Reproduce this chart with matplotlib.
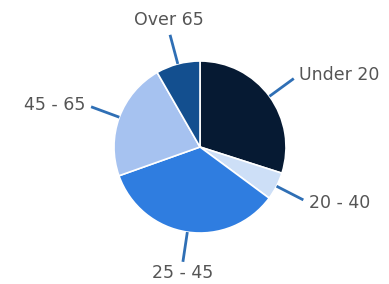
import numpy as np
import matplotlib
matplotlib.use("Agg")
import matplotlib.pyplot as plt

labels = ["Under 20", "20 - 40", "25 - 45", "45 - 65", "Over 65"]
values = [29.9, 5.2, 34.4, 22.1, 8.3]
colors = ["#061a33", "#cddff7", "#2f7de0", "#a6c2f0", "#134f8f"]

W, H = 389, 284
fig = plt.figure(figsize=(W / 100, H / 100), dpi=100)
ax = fig.add_axes([0, 0, 1, 1])
R = 86.0
cx, cy = 200.0, 147.0

wedges, _ = ax.pie(values, colors=colors, startangle=90, counterclock=False,
                   wedgeprops=dict(edgecolor="white", linewidth=1.2))
ax.set_xlim(-cx / R, (W - cx) / R)
ax.set_ylim(-(H - cy) / R, cy / R)
ax.set_aspect("equal", adjustable="datalim")
ax.axis("off")

line_color = "#2f6fb5"
text_color = "#555555"
for w, lab in zip(wedges, labels):
    mid = np.deg2rad((w.theta1 + w.theta2) / 2)
    c, s = np.cos(mid), np.sin(mid)
    ax.plot([1.0 * c, 1.35 * c], [1.0 * s, 1.35 * s], color=line_color, lw=2,
            solid_capstyle="butt")
    if abs(c) > 0.5:
        ha = "left" if c > 0 else "right"
        va = "center"
        tx, ty = 1.42 * c, 1.42 * s
    else:
        ha = "center"
        va = "bottom" if s > 0 else "top"
        rr = 1.42 if s > 0 else 1.38
        tx, ty = rr * c, rr * s
    ax.text(tx, ty, lab, ha=ha, va=va, fontsize=12.5, color=text_color,
            family="DejaVu Sans")

fig.savefig("out.png", dpi=100, facecolor="white")
